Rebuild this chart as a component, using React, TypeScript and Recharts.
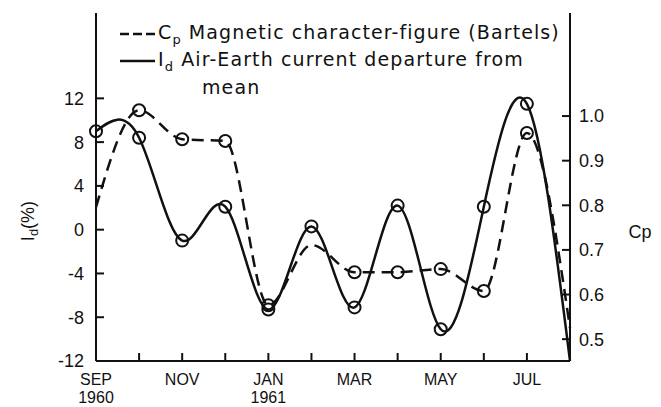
import React from "react";
import { LineChart, Line, XAxis, YAxis, Legend } from "recharts";

const months = ["SEP", "OCT", "NOV", "DEC", "JAN", "FEB", "MAR", "APR", "MAY", "JUN", "JUL", "AUG"];
const monthLabels = ["SEP", "", "NOV", "", "JAN", "", "MAR", "", "MAY", "", "JUL", ""];
const yearLabels = ["1960", "", "", "", "1961", "", "", "", "", "", "", ""];

// Air-Earth current departure from mean (%)
const idValues = [9.0, 8.4, -1.0, 2.1, -7.3, 0.3, -7.1, 2.2, -9.1, 2.1, 11.5, -12];
// Magnetic character-figure Cp
const cpValues = [0.796, 1.013, 0.948, 0.944, 0.576, 0.711, 0.65, 0.65, 0.657, 0.608, 0.962, 0.525];
// which points carry an open circle in the figure
const idMarked = [true, true, true, true, true, true, true, true, true, true, true, false];
const cpMarked = [false, true, true, true, true, false, true, true, true, true, true, false];

const idTicks = [-12, -8, -4, 0, 4, 8, 12];
const cpTicks = [0.5, 0.6, 0.7, 0.8, 0.9, 1.0];
const monthTicks = months.map((_, i) => i);

const data = months.map((m, i) => ({ i, month: m, id: idValues[i], cp: cpValues[i] }));

const FONT = "'Liberation Sans', Arial, sans-serif";
const LEGEND_FONT = "'DejaVu Sans', sans-serif";
const INK = "#111";

const MonthTick = (props: any) => {
  const { x, y, payload } = props;
  const i = payload.value;
  return (
    <g>
      <text x={x} y={y + 24} textAnchor="middle" fontFamily={FONT} fontSize={16} fill={INK}>
        {monthLabels[i]}
      </text>
      <text x={x} y={y + 42} textAnchor="middle" fontFamily={FONT} fontSize={16} fill={INK}>
        {yearLabels[i]}
      </text>
    </g>
  );
};

const NoTick = () => <g />;

const makeDot = (marked: boolean[]) => (p: any) =>
  marked[p.index] ? (
    <circle key={p.index} cx={p.cx} cy={p.cy} r={6} fill="none" stroke={INK} strokeWidth={2} />
  ) : (
    <g key={p.index} />
  );

const IdLabel = (props: any) => {
  const { viewBox } = props;
  const x = viewBox.x + 28;
  const y = viewBox.y + viewBox.height / 2 + 34;
  return (
    <text x={x} y={y} transform={`rotate(-90 ${x} ${y})`} textAnchor="middle" dominantBaseline="central"
      fontFamily={FONT} fontSize={18} fill={INK}>
      I<tspan fontSize={13} dy={5}>d</tspan><tspan dy={-5}>(%)</tspan>
    </text>
  );
};

const CpLabel = (props: any) => {
  const { viewBox } = props;
  const x = viewBox.x + 70;
  const y = viewBox.y + viewBox.height / 2 + 45;
  return (
    <text x={x} y={y} textAnchor="middle" dominantBaseline="central" fontFamily={FONT} fontSize={18} fill={INK}>
      Cp
    </text>
  );
};

const rowStyle: React.CSSProperties = { display: "flex", alignItems: "center", height: 27, whiteSpace: "nowrap" };
const subStyle: React.CSSProperties = { fontSize: 13, position: "relative", top: 5 };

const LegendBox = () => (
  <div style={{ fontFamily: LEGEND_FONT, fontSize: 19, letterSpacing: 1.1, color: INK, lineHeight: "27px" }}>
    <div style={rowStyle}>
      <svg width={40} height={10}>
        <line x1={2} y1={5} x2={37} y2={5} stroke={INK} strokeWidth={2.5} strokeDasharray="9 4" />
      </svg>
      <span>
        C<span style={subStyle}>p</span> Magnetic character-figure (Bartels)
      </span>
    </div>
    <div style={rowStyle}>
      <svg width={40} height={10}>
        <line x1={2} y1={5} x2={37} y2={5} stroke={INK} strokeWidth={2.5} />
      </svg>
      <span>
        I<span style={subStyle}>d</span> Air-Earth current departure from
      </span>
    </div>
    <div style={{ ...rowStyle, paddingLeft: 84 }}>mean</div>
  </div>
);

export default function App() {
  return (
    <div style={{ position: "absolute", left: 0, top: 0, width: 661, height: 407, background: "#fff" }}>
      <LineChart width={661} height={407} data={data} margin={{ top: 13, right: 0, bottom: 0, left: 0 }}>
        <XAxis
          xAxisId="bottom"
          dataKey="i"
          type="number"
          domain={[0, 11]}
          ticks={monthTicks}
          height={46}
          axisLine={{ stroke: INK, strokeWidth: 2 }}
          tickLine={{ stroke: INK, strokeWidth: 2 }}
          tickSize={-8}
          tickMargin={8}
          tick={<MonthTick />}
          interval={0}
        />
        <XAxis
          xAxisId="top"
          orientation="top"
          dataKey="i"
          type="number"
          domain={[0, 11]}
          ticks={monthTicks}
          height={0}
          axisLine={{ stroke: INK, strokeWidth: 2 }}
          tickLine={{ stroke: INK, strokeWidth: 2 }}
          tickSize={-6}
          tick={<NoTick />}
          interval={0}
        />
        <YAxis
          yAxisId="id"
          orientation="left"
          width={96}
          domain={[-12, 19.8]}
          ticks={idTicks}
          allowDataOverflow
          axisLine={{ stroke: INK, strokeWidth: 2 }}
          tickLine={{ stroke: INK, strokeWidth: 2 }}
          tickSize={-8}
          tickMargin={20}
          tick={{ fill: INK, fontFamily: FONT, fontSize: 18 }}
          interval={0}
          label={<IdLabel />}
        />
        <YAxis
          yAxisId="cp"
          orientation="right"
          width={91}
          domain={[0.451, 1.231]}
          ticks={cpTicks}
          allowDataOverflow
          axisLine={{ stroke: INK, strokeWidth: 2 }}
          tickLine={{ stroke: INK, strokeWidth: 2 }}
          tickSize={-8}
          tickMargin={17}
          tick={{ fill: INK, fontFamily: FONT, fontSize: 18 }}
          tickFormatter={(v: number) => v.toFixed(1)}
          interval={0}
          label={<CpLabel />}
        />
        <Legend
          layout="horizontal"
          verticalAlign="middle"
          align="center"
          wrapperStyle={{ left: 118, top: 20, width: 470 }}
          content={<LegendBox />}
        />
        <Line
          xAxisId="bottom"
          yAxisId="cp"
          type="monotone"
          dataKey="cp"
          stroke={INK}
          strokeWidth={2.5}
          strokeDasharray="12 7"
          dot={makeDot(cpMarked)}
          activeDot={false}
          isAnimationActive={false}
        />
        <Line
          xAxisId="bottom"
          yAxisId="id"
          type="natural"
          dataKey="id"
          stroke={INK}
          strokeWidth={2.5}
          dot={makeDot(idMarked)}
          activeDot={false}
          isAnimationActive={false}
        />
      </LineChart>
    </div>
  );
}
